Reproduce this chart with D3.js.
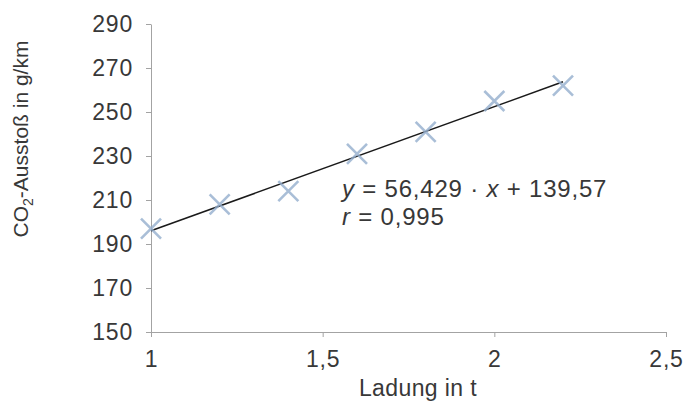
<!DOCTYPE html>
<html>
<head>
<meta charset="utf-8">
<script src="https://cdn.jsdelivr.net/npm/d3@7"></script>
<style>
    body { margin: 0; background: #fff; }
    svg { display: block; }
    .lbl { font-family: "Liberation Sans", Arial, sans-serif; fill: #383838; }
</style>
</head>
<body>
<svg id="chart"></svg>
<script>
// Ladung in t
const loads = [1, 1.2, 1.4, 1.6, 1.8, 2.0, 2.2];
// CO2-Ausstoss in g/km
const emissions = [197, 208, 214, 231, 241, 255, 262];

const xTicks = [1, 1.5, 2, 2.5];
const xTickLabels = ["1", "1,5", "2", "2,5"];
const yTicks = [150, 170, 190, 210, 230, 250, 270, 290];

// Regressionsgerade aus der Grafik
const fitSlope = 56.429;
const fitIntercept = 139.57;
const fitRange = [1, 2.2];

const width = 686;
const height = 402;

let svg = d3.select("#chart").attr("width", width).attr("height", height);

let scaleX = d3.scaleLinear().domain([1, 2.5]).range([151, 666]);
let scaleY = d3.scaleLinear().domain([150, 290]).range([332, 24]);

// Achsen
let axisX = d3.axisBottom(scaleX)
    .tickValues(xTicks)
    .tickFormat((d, i) => xTickLabels[i])
    .tickSize(5)
    .tickSizeOuter(0)
    .tickPadding(14);

let axisY = d3.axisLeft(scaleY)
    .tickValues(yTicks)
    .tickSize(5)
    .tickSizeOuter(0)
    .tickPadding(13);

let gx = svg.append("g")
    .attr("transform", `translate(0, ${scaleY(150)})`)
    .call(axisX);

let gy = svg.append("g")
    .attr("transform", `translate(${scaleX(1)}, 0)`)
    .call(axisY);

[gx, gy].forEach((g) => {
    g.selectAll("path, line").attr("stroke", "#a3a3a3");
    g.selectAll("text")
        .attr("class", "lbl")
        .attr("fill", null)
        .style("font-size", "23px")
        .style("letter-spacing", "0.8px");
});

// Achsenbeschriftungen
svg.append("text")
    .attr("class", "lbl")
    .attr("x", 418)
    .attr("y", 396)
    .attr("text-anchor", "middle")
    .style("font-size", "23px")
    .style("letter-spacing", "0.4px")
    .text("Ladung in t");

let yLabel = svg.append("text")
    .attr("class", "lbl")
    .attr("transform", "translate(28, 139) rotate(-90)")
    .attr("text-anchor", "middle")
    .style("font-size", "21px");
yLabel.append("tspan").text("CO");
yLabel.append("tspan").attr("dy", 5).style("font-size", "14px").text("2");
yLabel.append("tspan").attr("dy", -5).text("-Ausstoß in g/km");

// Regressionsgerade
let line = d3.line()
    .x((d) => scaleX(d))
    .y((d) => scaleY(fitSlope * d + fitIntercept));

svg.append("path")
    .datum(fitRange)
    .attr("fill", "none")
    .attr("stroke", "#1a1a1a")
    .attr("stroke-width", 1.5)
    .attr("d", line);

// Messpunkte als Kreuze
let defs = svg.append("defs");
defs.append("filter")
    .attr("id", "soft")
    .append("feGaussianBlur")
    .attr("stdDeviation", 0.7);

const r = 10;
svg.selectAll(".mark")
    .data(loads)
    .enter()
    .append("path")
    .attr("class", "mark")
    .attr("transform", (d, i) => `translate(${scaleX(d)}, ${scaleY(emissions[i])})`)
    .attr("d", `M${-r},${-r}L${r},${r}M${r},${-r}L${-r},${r}`)
    .attr("stroke", "#93aecd")
    .attr("stroke-width", 2.6)
    .attr("stroke-opacity", 0.8)
    .attr("filter", "url(#soft)");

// Gleichung
let eq = svg.append("text")
    .attr("class", "lbl")
    .attr("x", 342)
    .attr("y", 197)
    .style("font-size", "24px")
    .style("letter-spacing", "0.8px");
eq.append("tspan").style("font-style", "italic").text("y");
eq.append("tspan").text(" = 56,429 · ");
eq.append("tspan").style("font-style", "italic").text("x");
eq.append("tspan").text(" + 139,57");

let rText = svg.append("text")
    .attr("class", "lbl")
    .attr("x", 342)
    .attr("y", 225)
    .style("font-size", "24px")
    .style("letter-spacing", "0.8px");
rText.append("tspan").style("font-style", "italic").text("r");
rText.append("tspan").text(" = 0,995");
</script>
</body>
</html>
